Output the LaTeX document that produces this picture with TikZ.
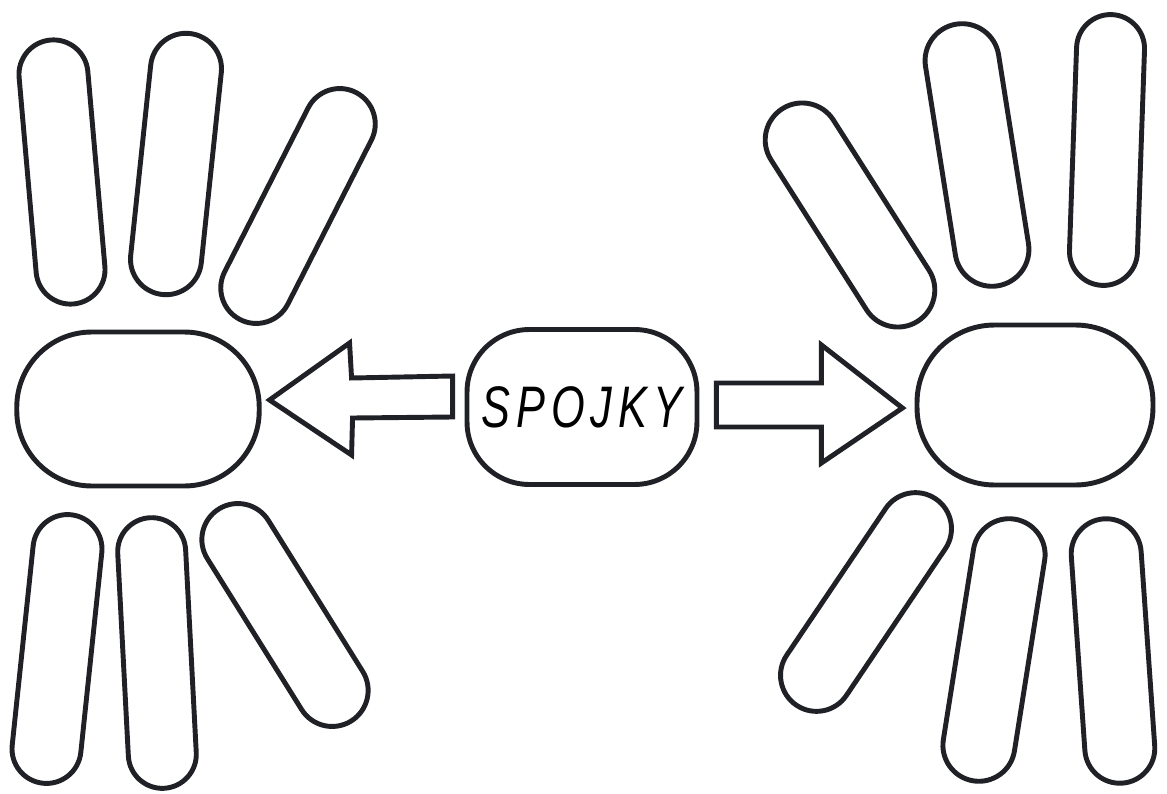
\documentclass[tikz,border=0pt]{standalone}
\usepackage{fontspec}
\newfontfamily\handfont{Liberation Sans}
\usepackage{graphicx}
\usepackage{tikz}
\usetikzlibrary{shapes.misc}
\definecolor{pen}{RGB}{32,33,38}
\tikzstyle{petal} = [
    rounded rectangle,
    draw=pen,
    line width=2.8pt,
    inner sep=0pt
]
\tikzstyle{bubble} = [
    rectangle,
    draw=pen,
    line width=2.8pt,
    inner sep=0pt
]
\tikzstyle{blockarrow} = [draw=pen, line width=2.8pt, line join=miter]

\begin{document}
\begin{tikzpicture}[x=0.02cm, y=-0.02cm]
\useasboundingbox (0,0) rectangle (1167,794);

\node (spojky) [bubble, rounded corners=1.25cm, minimum width=4.6cm, minimum height=3.1cm] at (582,407)
{\handfont\itshape\fontsize{29}{29}\selectfont\scalebox{0.85}[1.15]{S\kern4pt P\kern4pt O\kern4pt J\kern4pt K\kern4pt Y}};

\node (left) [bubble, rounded corners=1.5cm, minimum width=4.85cm, minimum height=3.08cm] at (138,409) {};

\node (right) [bubble, rounded corners=1.55cm, minimum width=4.72cm, minimum height=3.2cm] at (1035,405) {};

\node (lt1) [petal, minimum width=5.3cm, minimum height=1.38cm, rotate=95] at (62,172) {};
\node (lt2) [petal, minimum width=5.25cm, minimum height=1.42cm, rotate=84] at (176,164) {};
\node (lt3) [petal, minimum width=5.1cm, minimum height=1.42cm, rotate=63] at (298,206) {};

\node (lb4) [petal, minimum width=5.4cm, minimum height=1.38cm, rotate=84] at (57,649) {};
\node (lb5) [petal, minimum width=5.42cm, minimum height=1.36cm, rotate=93] at (157,653) {};
\node (lb6) [petal, minimum width=5.0cm, minimum height=1.44cm, rotate=122] at (285,615) {};

\node (rt7) [petal, minimum width=5.04cm, minimum height=1.48cm, rotate=122.5] at (850,215) {};
\node (rt8) [petal, minimum width=5.3cm, minimum height=1.48cm, rotate=99] at (977,155) {};
\node (rt9) [petal, minimum width=5.42cm, minimum height=1.36cm, rotate=88] at (1107,150) {};

\node (rb10) [petal, minimum width=4.98cm, minimum height=1.44cm, rotate=56] at (866,602) {};
\node (rb11) [petal, minimum width=5.3cm, minimum height=1.44cm, rotate=81] at (994,650) {};
\node (rb12) [petal, minimum width=5.3cm, minimum height=1.4cm, rotate=94] at (1113,651) {};

% arrow to the left
\draw [blockarrow] (spojky.west) ++(-12,-31) -- ++(-101,2) -- ++(-2,-35) -- ++(-80,57)
    -- ++(82,55) -- ++(1,-37) -- ++(100,-1) -- cycle;

% arrow to the right
\draw [blockarrow] (spojky.east) ++(17,-24) -- ++(105,0) -- ++(0,-38) -- ++(81,63)
    -- ++(-81,55) -- ++(0,-36) -- ++(-105,0) -- cycle;

\end{tikzpicture}
\end{document}
